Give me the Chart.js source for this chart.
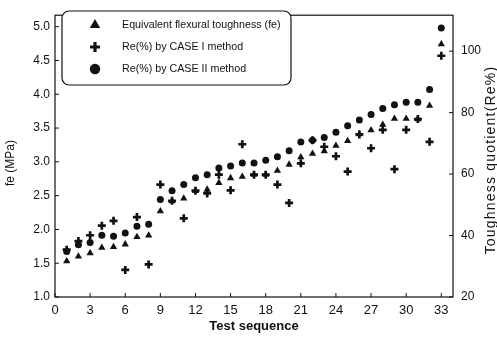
<!DOCTYPE html>
<html>
<head>
<meta charset="utf-8">
<script src="https://cdn.jsdelivr.net/npm/chart.js@4.4.1/dist/chart.umd.min.js"></script>
<style>
html,body{margin:0;padding:0;background:#fff;}
#wrap{width:497px;height:338px;position:relative;}
</style>
</head>
<body>
<div id="wrap"><canvas id="c" width="497" height="338"></canvas></div>
<script>
// ---- data ----
const testSequence = [1,2,3,4,5,6,7,8,9,10,11,12,13,14,15,16,17,18,19,20,21,22,23,24,25,26,27,28,29,30,31,32,33];
const feValues = [1.53,1.60,1.65,1.73,1.74,1.78,1.89,1.91,2.27,2.42,2.46,2.57,2.59,2.69,2.76,2.78,2.81,2.81,2.87,2.96,3.07,3.12,3.16,3.24,3.31,3.41,3.47,3.55,3.64,3.64,3.63,3.83,4.74];
const reCase1 = [35.4,38.2,40.1,43.2,44.8,28.8,46.0,30.6,56.6,51.3,45.6,54.6,53.7,59.8,54.7,69.7,59.8,59.8,56.6,50.6,63.5,71.0,68.9,65.8,60.8,72.9,68.4,74.4,61.6,74.4,77.9,70.5,98.5];
const reCase2 = [34.8,37.0,37.7,40.1,39.8,40.8,43.0,43.7,51.7,54.6,56.6,58.8,59.8,62.0,62.6,63.6,63.6,64.5,65.6,67.6,70.4,71.0,71.9,73.6,75.7,77.6,79.4,81.3,82.6,83.4,83.4,87.5,107.5];
const xTickValues = [0,3,6,9,12,15,18,21,24,27,30,33];
const leftTickValues = [1.0,1.5,2.0,2.5,3.0,3.5,4.0,4.5,5.0];
const rightTickValues = [20,40,60,80,100];
const seriesLabels = ['Equivalent flexural toughness (fe)','Re(%) by CASE I method','Re(%) by CASE II method'];
const xTitle = 'Test sequence';
const leftTitle = 'fe (MPa)';
const rightTitle = 'Toughness quotient(Re%)';

const FONT = '"Liberation Sans", Arial, sans-serif';
const INK = '#111';

function pts(vals){ return testSequence.map((s,i)=>({x:s,y:vals[i]})); }

const framePlugin = {
  id:'frame',
  afterDatasetsDraw(chart){
    const ctx = chart.ctx, a = chart.chartArea;
    const sx = chart.scales.x, sy = chart.scales.y, sy2 = chart.scales.y2;
    ctx.save();
    ctx.strokeStyle = INK;
    ctx.lineWidth = 1.2;
    ctx.strokeRect(a.left, a.top, a.right - a.left, a.bottom - a.top);
    ctx.lineWidth = 1;
    ctx.beginPath();
    xTickValues.forEach(v=>{ const p = sx.getPixelForValue(v); ctx.moveTo(p, a.bottom); ctx.lineTo(p, a.bottom-4); });
    leftTickValues.forEach(v=>{ const p = sy.getPixelForValue(v); ctx.moveTo(a.left, p); ctx.lineTo(a.left+4, p); });
    rightTickValues.forEach(v=>{ const p = sy2.getPixelForValue(v); ctx.moveTo(a.right, p); ctx.lineTo(a.right-4, p); });
    ctx.stroke();

    // axis titles (rotated, reading bottom-to-top)
    ctx.fillStyle = INK;
    ctx.textAlign = 'center';
    ctx.textBaseline = 'middle';
    ctx.save();
    ctx.translate(11, 163);
    ctx.rotate(-Math.PI/2);
    ctx.font = '12px ' + FONT;
    ctx.fillText(leftTitle, 0, 0);
    ctx.restore();
    ctx.save();
    ctx.translate(491, 160);
    ctx.rotate(-Math.PI/2);
    ctx.font = '14px ' + FONT;
    try { ctx.letterSpacing = '1.2px'; } catch(e) {}
    ctx.fillText(rightTitle, 0, 0);
    try { ctx.letterSpacing = '0px'; } catch(e) {}
    ctx.restore();

    // legend box
    const lx = 62, ly = 11, lw = 229, lh = 74;
    ctx.lineWidth = 1.2;
    ctx.beginPath();
    ctx.roundRect(lx, ly, lw, lh, 7);
    ctx.fillStyle = '#fff';
    ctx.fill();
    ctx.stroke();
    const rows = [25, 47, 69];
    chart.data.datasets.forEach((ds, i)=>{
      ctx.fillStyle = INK; ctx.strokeStyle = INK;
      const st = ds.pointStyle;
      const r = st === 'circle' ? 5.2 : (st === 'cross' ? 5 : 6);
      const bw = st === 'cross' ? 3.2 : 0;
      ctx.lineWidth = bw || 1;
      Chart.helpers.drawPoint(ctx, {pointStyle: st, rotation: 0, radius: r, borderWidth: bw}, 95, rows[i]);
      ctx.fillStyle = INK;
      ctx.font = '10.7px ' + FONT;
      ctx.textAlign = 'left';
      ctx.textBaseline = 'middle';
      ctx.fillText(ds.label, 122, rows[i]);
    });
    ctx.restore();
  }
};

new Chart(document.getElementById('c'), {
  type: 'scatter',
  data: {
    datasets: [
      {label: seriesLabels[0], data: pts(feValues), yAxisID:'y', pointStyle:'triangle', pointRadius:4.2, pointHoverRadius:4.2, backgroundColor:INK, borderColor:INK, borderWidth:0},
      {label: seriesLabels[1], data: pts(reCase1), yAxisID:'y2', pointStyle:'cross', pointRadius:4, pointHoverRadius:4, backgroundColor:INK, borderColor:INK, borderWidth:2.7},
      {label: seriesLabels[2], data: pts(reCase2), yAxisID:'y2', pointStyle:'circle', pointRadius:3.5, pointHoverRadius:3.5, backgroundColor:INK, borderColor:INK, borderWidth:0}
    ]
  },
  options: {
    responsive: false,
    animation: false,
    events: [],
    layout: {padding: {top: 6, left: 0, right: 0, bottom: 0}},
    plugins: {legend: {display:false}, tooltip: {enabled:false}},
    scales: {
      x: {
        type:'linear', position:'bottom', min:0, max:34,
        afterBuildTicks: s => { s.ticks = xTickValues.map(v=>({value:v})); },
        afterFit: s => { s.height = 41; },
        grid:{display:false, drawTicks:false}, border:{display:false},
        ticks:{color:INK, font:{size:13, family:FONT}, padding:6, maxRotation:0, autoSkip:false},
        title:{display:true, text:xTitle, color:INK, font:{size:13, weight:'bold', family:FONT}, padding:{top:0, bottom:4}}
      },
      y: {
        type:'linear', position:'left', min:1, max:5.17,
        afterBuildTicks: s => { s.ticks = leftTickValues.map(v=>({value:v})); },
        afterFit: s => { s.width = 55; },
        grid:{display:false, drawTicks:false}, border:{display:false},
        ticks:{color:INK, font:{size:12, family:FONT}, padding:5, callback: v => Number(v).toFixed(1)}
      },
      y2: {
        type:'linear', position:'right', min:20, max:111.7,
        afterBuildTicks: s => { s.ticks = rightTickValues.map(v=>({value:v})); },
        afterFit: s => { s.width = 44; },
        grid:{display:false, drawTicks:false}, border:{display:false},
        ticks:{color:INK, font:{size:12, family:FONT}, padding:8}
      }
    }
  },
  plugins: [framePlugin]
});
</script>
</body>
</html>
